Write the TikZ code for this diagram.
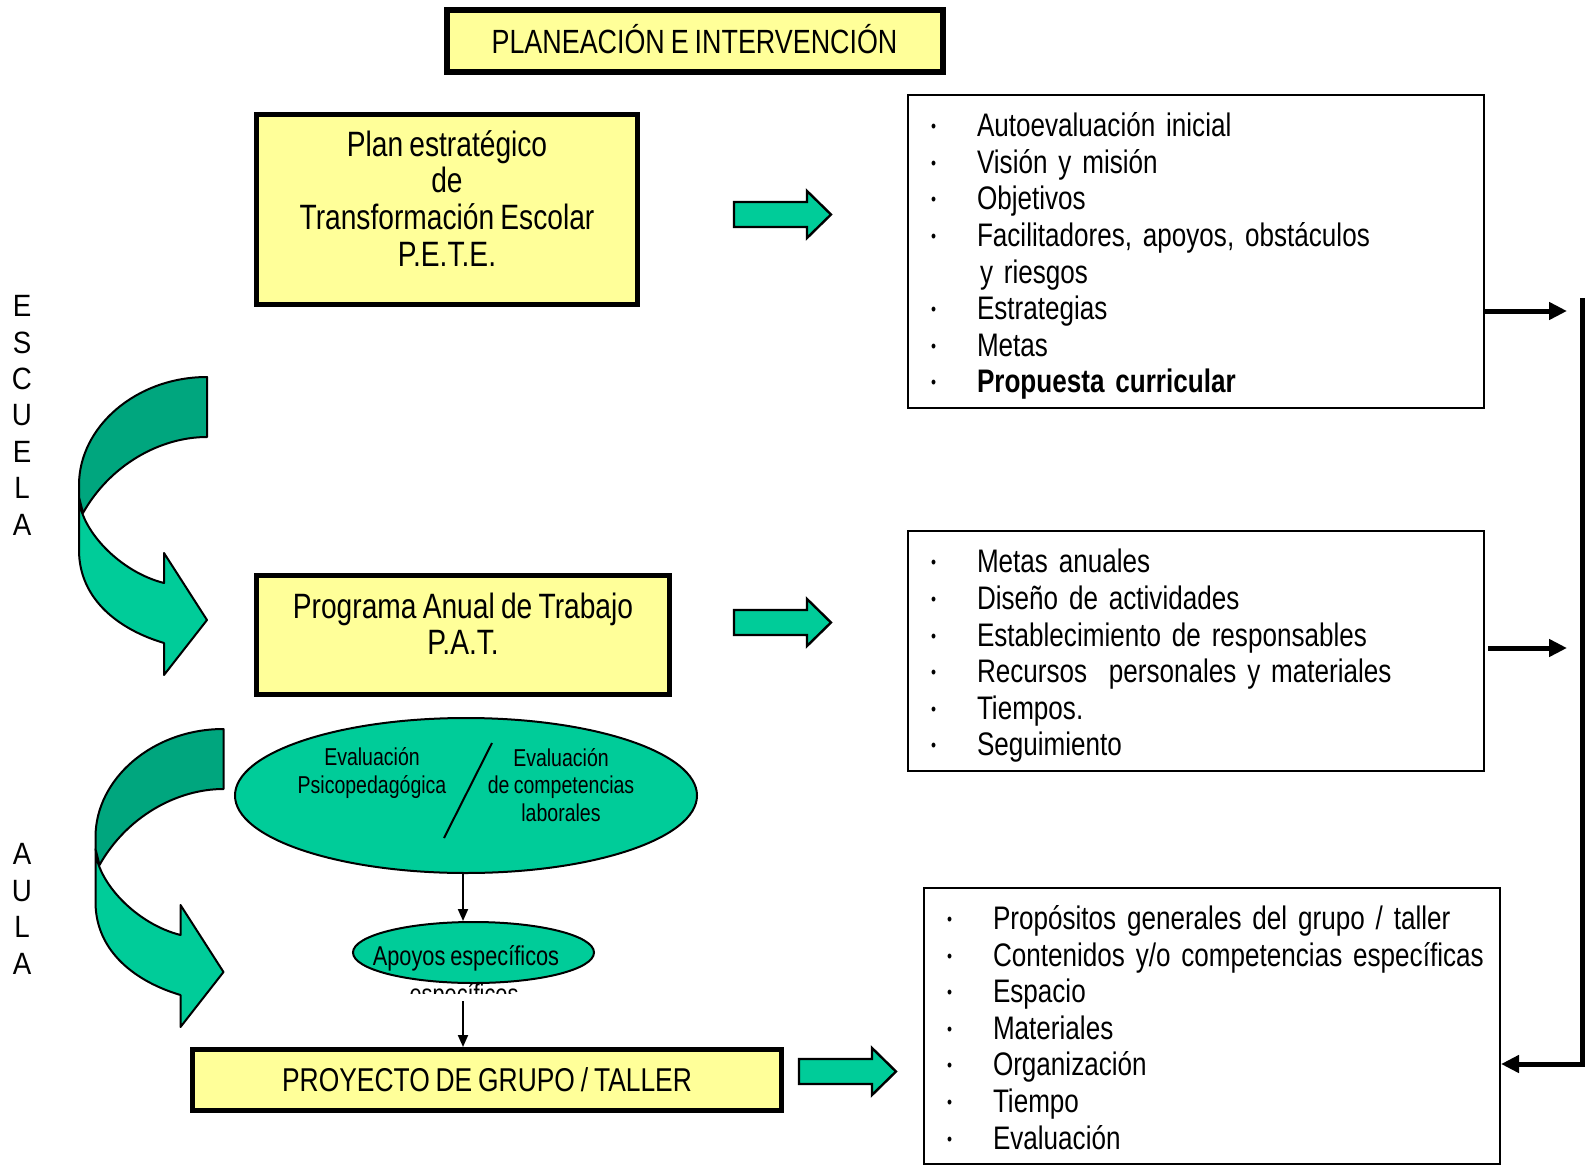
\documentclass[tikz,border=0pt]{standalone}
\usepackage{fontspec}
\setmainfont{Liberation Sans}[FakeStretch=0.8, WordSpace=0.8]
\newfontfamily\sidefont{Liberation Sans}[FakeStretch=0.9]
\usetikzlibrary{shapes.geometric,arrows.meta,positioning,calc}
\definecolor{boxyellow}{RGB}{255,255,153}
\definecolor{tealA}{RGB}{0,204,153}
\definecolor{tealB}{RGB}{0,166,126}
\newcommand{\bul}{\hspace{1pt}\raisebox{2pt}{\scalebox{0.55}{\textbullet}}}
\newcommand{\boxtext}[2]{\raisebox{#1}[\height][\depth]{\begin{tabular}{@{}c@{}}#2\end{tabular}}}
\newcommand{\listtext}[1]{\raisebox{-3pt}[\height][\depth]{\begin{tabular}{@{}p{24pt}@{}l@{}}#1\end{tabular}}}
% green block arrow, #1 = middle of its back end
\newcommand{\greenarrow}[1]{\filldraw[blockarrow] (#1) ++(0,-12.5) -- ++(73,0) -- ++(0,-11) -- ++(24,23.5) -- ++(-24,23.5) -- ++(0,-11) -- ++(-73,0) -- cycle;}
% curved arrow, #1 = shift
\newcommand{\bendarrow}[1]{%
  \begin{scope}[shift={(#1)}]
    \filldraw[lightband] (79,497) -- (79,550) .. controls (79,600) and (120,630) .. (164,643) -- (164,675) -- (207,620) -- (164,553) -- (164,583) .. controls (120,572) and (80,530) .. (79,497) -- cycle;
    \filldraw[darkband] (207,377) .. controls (136,377) and (79,427) .. (79,485) -- (79,497) -- (83,513) .. controls (110,465) and (160,437) .. (207,437) -- cycle;
  \end{scope}}

\begin{document}
\begin{tikzpicture}[x=0.5pt, y=-0.5pt, >=Triangle]
    % Styles
    \tikzset{
      yellowbox/.style={rectangle, draw, line width=2.5pt, fill=boxyellow, inner sep=0pt, align=center},
      listbox/.style={rectangle, draw, line width=1pt, inner xsep=10.5pt, inner ysep=0pt, text width=267pt, minimum width=288pt, align=left, font=\fontsize{16.3}{18.3}\selectfont},
      evalshape/.style={ellipse, draw, line width=1pt, fill=tealA, inner sep=0pt},
      evaltext/.style={align=center, anchor=base, font=\fontsize{12.2}{13.75}\selectfont},
      sideword/.style={align=center, anchor=base, font=\sidefont\fontsize{15.4}{18.2}\selectfont},
      blockarrow/.style={fill=tealA, draw, line width=1.2pt},
      lightband/.style={fill=tealA, draw, line width=1pt, line join=round},
      darkband/.style={fill=tealB, draw, line width=1pt, line join=round},
      thinline/.style={line width=1pt, -{Triangle[length=6pt, width=5pt]}},
      thickline/.style={line width=2.5pt, -{Triangle[length=9pt, width=8.5pt]}}
    }
    \useasboundingbox (0,0) rectangle (1585,1167);

    % Left column
    \node [yellowbox, line width=3pt, minimum width=248pt, minimum height=31pt, font=\fontsize{16.8}{18}\selectfont] (title) at (694.5,40.5) {\raisebox{1.5pt}{PLANEACIÓN E INTERVENCIÓN}};
    \node [yellowbox, minimum width=190.5pt, minimum height=95pt, font=\fontsize{17.6}{18.25}\selectfont] (pete) at (447,209.5) {\boxtext{2.8pt}{Plan estratégico\\de\\Transformación Escolar\\P.E.T.E.}};
    \node [yellowbox, minimum width=206.5pt, minimum height=59.5pt, font=\fontsize{17.6}{18.25}\selectfont] (pat) at (463,635) {\boxtext{2.8pt}{Programa Anual de Trabajo\\P.A.T.}};
    \node [evalshape, minimum width=231pt, minimum height=77.5pt] (evaluacion) at (466,795.5) {};
    \node [evaltext] (psico) at (372,793) {Evaluación\\Psicopedagógica};
    \node [evaltext] (laboral) at (561,821) {Evaluación\\de competencias\\laborales};
    \coordinate (slashtop) at (492,743);
    \coordinate (slashbot) at (444,838);
    \draw [line width=1pt] (slashtop) -- (slashbot);
    \node [evalshape, minimum width=120.5pt, minimum height=30.5pt] (apoyos) at (473.5,952.5) {};
    \node [evaltext, font=\fontsize{13.6}{15}\selectfont] (apoyostext) at (466,965) {Apoyos específicos};
    \begin{scope}
      \clip (380,975) rectangle (560,993);
      \node [evaltext, font=\fontsize{13.6}{15}\selectfont] (apoyosmore) at (464,1003) {específicos};
    \end{scope}
    \node [yellowbox, minimum width=294.5pt, minimum height=30.5pt, font=\fontsize{16.5}{18}\selectfont] (proyecto) at (487,1080) {PROYECTO DE GRUPO / TALLER};

    \node [sideword] (escuela) at (22,535) {E\\S\\C\\U\\E\\L\\A};
    \node [sideword] (aula) at (22,974) {A\\U\\L\\A};

    \bendarrow{0,0}
    \bendarrow{16.5,352}

    % Edges
    \draw [thinline] (evaluacion.south -| pat.center) -- (apoyos.north -| pat.center);
    \draw [thinline] ($(apoyos.south -| pat.center)+(0,17)$) -- (proyecto.north -| pat.center);

    % Right column
    \node [listbox, minimum height=156.5pt] (petelist) at (1196,251.5) {%
      \listtext{%
      \bul & Autoevaluación inicial\\
      \bul & Visión y misión\\
      \bul & Objetivos\\
      \bul & Facilitadores, apoyos, obstáculos\\
           & \hspace{1.5pt}y riesgos\\
      \bul & Estrategias\\
      \bul & Metas\\
      \bul & \textbf{Propuesta curricular}}};
    \node [listbox, minimum height=120pt] (patlist) at (1196,651) {%
      \listtext{%
      \bul & Metas anuales\\
      \bul & Diseño de actividades\\
      \bul & Establecimiento de responsables\\
      \bul & Recursos~ personales y materiales\\
      \bul & Tiempos.\\
      \bul & Seguimiento}};
    \node [listbox, minimum height=138pt] (grupolist) at (1212,1026) {%
      \listtext{%
      \bul & Propósitos generales del grupo / taller\\
      \bul & Contenidos y/o competencias específicas\\
      \bul & Espacio\\
      \bul & Materiales\\
      \bul & Organización\\
      \bul & Tiempo\\
      \bul & Evaluación}};

    \greenarrow{734,214.5}
    \greenarrow{734,622.5}
    \greenarrow{799,1071.5}

    \coordinate (r1) at (1567,311);
    \coordinate (r2) at (1567,648);
    \coordinate (bartop) at (1582,298);
    \coordinate (barbot) at (1582,1064);
    \draw [thickline] (petelist.east |- r1) -- (r1);
    \draw [thickline] ($(patlist.east |- r2)+(3,0)$) -- (r2);
    \draw [thickline, line join=miter] (bartop) -- (barbot) -- (grupolist.east |- barbot);
\end{tikzpicture}
\end{document}
